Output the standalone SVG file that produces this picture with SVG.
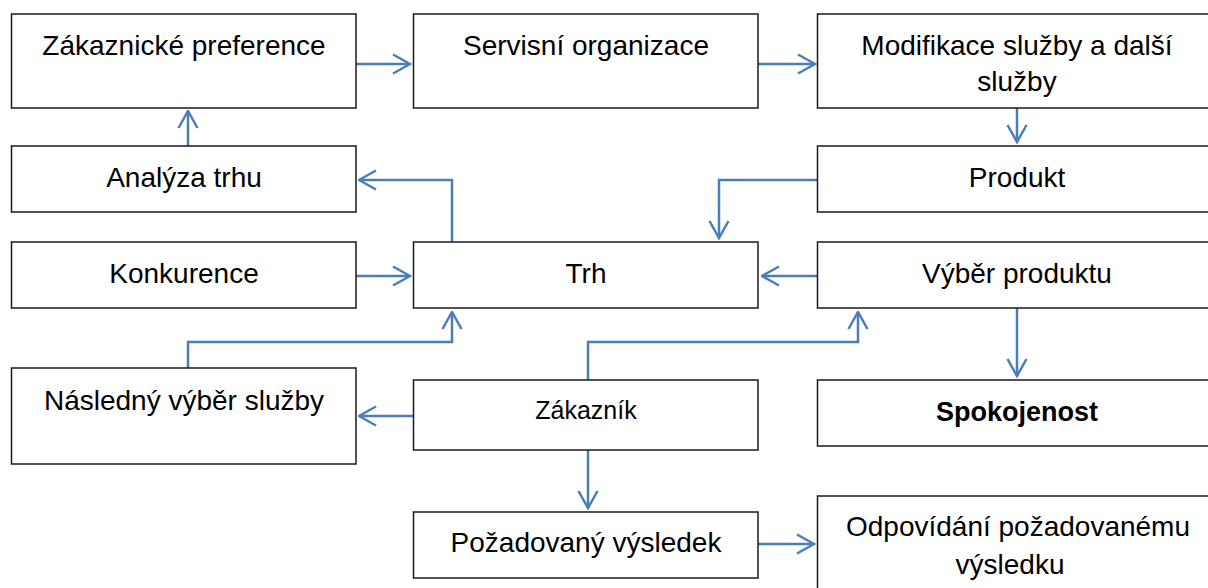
<svg xmlns="http://www.w3.org/2000/svg" width="1208" height="588" viewBox="0 0 1208 588">
<style>
.box{fill:#fff;stroke:#1a1a1a;stroke-width:1.5}
.t{font-family:"Liberation Sans",Arial,sans-serif;font-size:28px;fill:#000;text-anchor:middle}
.s{font-size:25px}
.b{font-weight:bold;font-size:27px}
.c{fill:none;stroke:#4a7ebb;stroke-width:2.5}
</style>
<defs>
<marker id="a" viewBox="0 0 20 22" refX="18.5" refY="11" markerWidth="20" markerHeight="22" markerUnits="userSpaceOnUse" orient="auto">
<path d="M1.5,1.5 L18.5,11 L1.5,20.5" fill="none" stroke="#4a7ebb" stroke-width="2.5"/>
</marker>
</defs>
<rect width="1208" height="588" fill="#fff"/>
<g id="connectors">
<path class="c" d="M356,64 H410" marker-end="url(#a)"/>
<path class="c" d="M758,64 H815" marker-end="url(#a)"/>
<path class="c" d="M1017,108 V142" marker-end="url(#a)"/>
<path class="c" d="M188,146 V111" marker-end="url(#a)"/>
<path class="c" d="M452,242 V180 H359" marker-end="url(#a)"/>
<path class="c" d="M817,180 H719 V238" marker-end="url(#a)"/>
<path class="c" d="M356,276 H410" marker-end="url(#a)"/>
<path class="c" d="M817,276 H762" marker-end="url(#a)"/>
<path class="c" d="M188,368 V342 H452 V312" marker-end="url(#a)"/>
<path class="c" d="M588,380 V342 H858 V312" marker-end="url(#a)"/>
<path class="c" d="M413,416 H359" marker-end="url(#a)"/>
<path class="c" d="M1017,308 V376" marker-end="url(#a)"/>
<path class="c" d="M588,450 V508" marker-end="url(#a)"/>
<path class="c" d="M758,544 H814" marker-end="url(#a)"/>
</g>
<g id="n1"><rect class="box" x="11.5" y="14" width="344.5" height="94"/><text class="t" x="184" y="55">Zákaznické preference</text></g>
<g id="n2"><rect class="box" x="413.5" y="14" width="344.5" height="94"/><text class="t" x="586" y="55">Servisní organizace</text></g>
<g id="n3"><rect class="box" x="817.5" y="14" width="420" height="94"/><text class="t" x="1017" y="55">Modifikace služby a další</text><text class="t" x="1017" y="91">služby</text></g>
<g id="n4"><rect class="box" x="11.5" y="146" width="344.5" height="66"/><text class="t" x="184" y="187">Analýza trhu</text></g>
<g id="n5"><rect class="box" x="817.5" y="146" width="420" height="66"/><text class="t" x="1017" y="187">Produkt</text></g>
<g id="n6"><rect class="box" x="11.5" y="242" width="344.5" height="66"/><text class="t" x="184" y="283">Konkurence</text></g>
<g id="n7"><rect class="box" x="413.5" y="242" width="344.5" height="66"/><text class="t" x="586" y="283">Trh</text></g>
<g id="n8"><rect class="box" x="817.5" y="242" width="420" height="66"/><text class="t" x="1017" y="283">Výběr produktu</text></g>
<g id="n9"><rect class="box" x="11.5" y="368" width="344.5" height="96"/><text class="t" x="184" y="410">Následný výběr služby</text></g>
<g id="n10"><rect class="box" x="413.5" y="380" width="344.5" height="70"/><text class="t s" x="586" y="419">Zákazník</text></g>
<g id="n11"><rect class="box" x="817.5" y="380" width="420" height="66"/><text class="t b" x="1017" y="421">Spokojenost</text></g>
<g id="n12"><rect class="box" x="413.5" y="512" width="344.5" height="66"/><text class="t" x="586" y="552">Požadovaný výsledek</text></g>
<g id="n13"><rect class="box" x="817.5" y="496" width="420" height="120"/><text class="t" x="1018" y="536">Odpovídání požadovanému</text><text class="t" x="1010" y="574">výsledku</text></g>
</svg>
